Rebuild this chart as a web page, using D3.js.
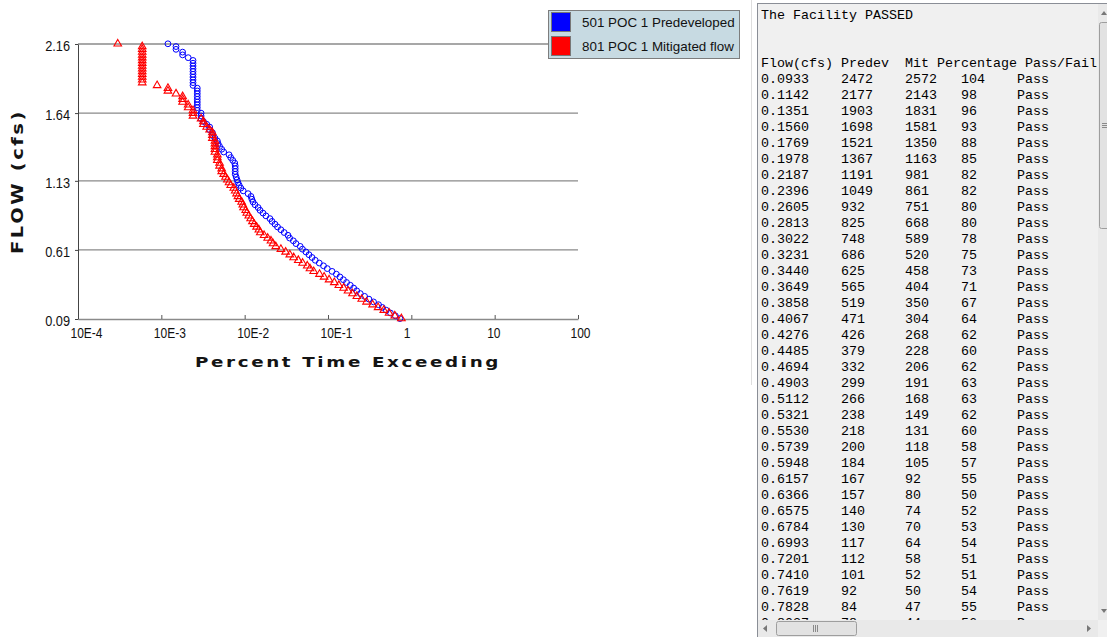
<!DOCTYPE html>
<html>
<head>
<meta charset="utf-8">
<script src="https://cdn.jsdelivr.net/npm/d3@7"></script>
<style>
  body { margin: 0; background: #fff; }
  svg { display: block; }
</style>
</head>
<body>
<div id="chart"></div>
<script>
// flow levels (cfs) used by the duration analysis
const flowLevels = [
  0.0933, 0.1142, 0.1351, 0.1560, 0.1769, 0.1978, 0.2187, 0.2396, 0.2605, 0.2813,
  0.3022, 0.3231, 0.3440, 0.3649, 0.3858, 0.4067, 0.4276, 0.4485, 0.4694, 0.4903,
  0.5112, 0.5321, 0.5530, 0.5739, 0.5948, 0.6157, 0.6366, 0.6575, 0.6784, 0.6993,
  0.7201, 0.7410, 0.7619, 0.7828, 0.8037, 0.8246, 0.8455, 0.8664, 0.8872, 0.9081,
  0.9290, 0.9499, 0.9708, 0.9917, 1.0126, 1.0335, 1.0544, 1.0753, 1.0962, 1.1171,
  1.1380, 1.1589, 1.1798, 1.2006, 1.2215, 1.2424, 1.2633, 1.2842, 1.3051, 1.3260,
  1.3469, 1.3678, 1.3887, 1.4096, 1.4304, 1.4513, 1.4722, 1.4931, 1.5140, 1.5349,
  1.5558, 1.5767, 1.5976, 1.6185, 1.6394, 1.6602, 1.6811, 1.7020, 1.7229, 1.7438,
  1.7647, 1.7856, 1.8065, 1.8274, 1.8483, 1.8691, 1.8900, 1.9109, 1.9318, 1.9527,
  1.9736, 1.9945, 2.0154, 2.0363, 2.0571, 2.0780, 2.0989, 2.1198, 2.1407, 2.1616
];

// percent time exceeding, predeveloped
const predevPct = [
  0.730, 0.643, 0.562, 0.501, 0.449, 0.404, 0.352, 0.310, 0.275, 0.244,
  0.221, 0.203, 0.185, 0.167, 0.153, 0.139, 0.126, 0.112, 0.098, 0.0883,
  0.0786, 0.0703, 0.0644, 0.0591, 0.0543, 0.0493, 0.0464, 0.0413, 0.0384, 0.0346,
  0.0331, 0.0298, 0.0272, 0.0248, 0.0231, 0.0213, 0.0201, 0.0180, 0.0166, 0.0153,
  0.0145, 0.0133, 0.0126, 0.0122, 0.0119, 0.0110, 0.0096, 0.0090, 0.0086, 0.0083,
  0.0081, 0.0079, 0.0077, 0.0077, 0.0077, 0.0077, 0.0076, 0.0072, 0.0068, 0.0065,
  0.0056, 0.0053, 0.0050, 0.0048, 0.0047, 0.0044, 0.0041, 0.0041, 0.0038, 0.0038,
  0.0035, 0.0032, 0.0030, 0.0030, 0.0030, 0.0027, 0.0027, 0.0027, 0.0027, 0.0027,
  0.0027, 0.0027, 0.0027, 0.0027, 0.0024, 0.0024, 0.0024, 0.0024, 0.0024, 0.0024,
  0.0024, 0.0024, 0.0024, 0.0024, 0.0021, 0.0018, 0.0018, 0.0015, 0.0015, 0.0012
];

// percent time exceeding, mitigated
const mitPct = [
  0.760, 0.633, 0.541, 0.467, 0.399, 0.343, 0.290, 0.254, 0.222, 0.197,
  0.174, 0.154, 0.135, 0.119, 0.103, 0.0898, 0.0791, 0.0673, 0.0608, 0.0564,
  0.0496, 0.0440, 0.0387, 0.0348, 0.0310, 0.0272, 0.0236, 0.0219, 0.0207, 0.0189,
  0.0171, 0.0154, 0.0148, 0.0139, 0.0130, 0.0124, 0.0118, 0.0112, 0.0106, 0.0103,
  0.0097, 0.0095, 0.0092, 0.0086, 0.0083, 0.0080, 0.0077, 0.0074, 0.0068, 0.0065,
  0.0062, 0.0059, 0.0056, 0.0053, 0.0053, 0.0050, 0.0050, 0.0047, 0.0047, 0.0047,
  0.0044, 0.0044, 0.0044, 0.0044, 0.0044, 0.0041, 0.0041, 0.0041, 0.0038, 0.0035,
  0.0032, 0.0032, 0.0030, 0.0024, 0.0024, 0.0024, 0.0021, 0.0021, 0.0018, 0.0018,
  0.0018, 0.0015, 0.0012, 0.0012, 0.00089, 0.00059, 0.00059, 0.00059, 0.00059, 0.00059,
  0.00059, 0.00059, 0.00059, 0.00059, 0.00059, 0.00059, 0.00059, 0.00059, 0.00059, 0.00030
];

const xTicks = [1e-4, 1e-3, 1e-2, 1e-1, 1, 10, 100];
const xTickLabels = ["10E-4", "10E-3", "10E-2", "10E-1", "1", "10", "100"];
const yTicks = [0.09, 0.61, 1.13, 1.64, 2.16];
const yTickLabels = ["0.09", "0.61", "1.13", "1.64", "2.16"];

const seriesNames = ["501 POC 1 Predeveloped", "801 POC 1 Mitigated flow"];
const seriesColors = ["#0000ff", "#ff0000"];

// table on the right
const tableTitle = "The Facility PASSED";
const tableHeader = ["Flow(cfs)", "Predev", "Mit", "Percentage", "Pass/Fail"];
const tablePredev = [2472, 2177, 1903, 1698, 1521, 1367, 1191, 1049, 932, 825, 748, 686, 625, 565, 519, 471, 426, 379,
  332, 299, 266, 238, 218, 200, 184, 167, 157, 140, 130, 117, 112, 101, 92, 84, 78];
const tableMit = [2572, 2143, 1831, 1581, 1350, 1163, 981, 861, 751, 668, 589, 520, 458, 404, 350, 304, 268, 228,
  206, 191, 168, 149, 131, 118, 105, 92, 80, 74, 70, 64, 58, 52, 50, 47, 44];
const tablePercent = [104, 98, 96, 93, 88, 85, 82, 82, 80, 80, 78, 75, 73, 71, 67, 64, 62, 60,
  62, 63, 63, 62, 60, 58, 57, 55, 50, 52, 53, 54, 51, 51, 54, 55, 56];
const tableResult = "Pass";

const svg = d3.select("#chart").append("svg")
  .attr("width", 1107)
  .attr("height", 637);

// plot area
var margin = {top: 44, left: 78},
    width = 500,
    height = 275;

var x = d3.scaleLog()
  .domain([1e-4, 100])
  .range([margin.left, margin.left + width]);
var y = d3.scaleLinear()
  .domain([0.09, 2.16])
  .range([margin.top + height, margin.top]);

const tickFont = "15px 'Liberation Sans', Arial, sans-serif";

// horizontal grid lines
svg.append("g")
  .selectAll("line")
  .data(yTicks.slice(1))
  .enter()
  .append("line")
    .attr("x1", x(1e-4))
    .attr("x2", x(100))
    .attr("y1", d => y(d))
    .attr("y2", d => y(d))
    .attr("stroke", "#8a8a8a")
    .attr("stroke-width", 1.4);

// X axis
var xAxis = svg.append("g")
  .attr("transform", "translate(0," + (margin.top + height) + ")")
  .call(d3.axisBottom(x)
    .tickValues(xTicks)
    .tickFormat((d, i) => xTickLabels[i])
    .tickSizeInner(-4)
    .tickSizeOuter(0));
xAxis.select(".domain").attr("stroke", "#8a8a8a").attr("stroke-width", 1.4);
xAxis.selectAll(".tick line").attr("stroke", "#555");
xAxis.selectAll(".tick text")
  .attr("x", 0).attr("y", 0).attr("dy", 0)
  .attr("text-anchor", "start")
  .attr("transform", "translate(-8,19) scale(0.8,1)")
  .attr("fill", "#111")
  .style("font", tickFont);

// Y axis
var yAxis = svg.append("g")
  .attr("transform", "translate(" + margin.left + ",0)")
  .call(d3.axisLeft(y)
    .tickValues(yTicks)
    .tickFormat((d, i) => yTickLabels[i])
    .tickSize(3)
    .tickSizeOuter(0));
yAxis.select(".domain").attr("stroke", "#444");
yAxis.selectAll(".tick line").attr("stroke", "#444");
yAxis.selectAll(".tick text")
  .attr("x", 0)
  .attr("dy", "0.36em")
  .attr("transform", "translate(-8,1) scale(0.85,1)")
  .attr("fill", "#111")
  .style("font", tickFont);

// Predeveloped: open circles
svg.append("g")
  .selectAll("circle")
  .data(predevPct)
  .enter()
  .append("circle")
    .attr("cx", d => x(d))
    .attr("cy", (d, i) => y(flowLevels[i]))
    .attr("r", 2.9)
    .attr("fill", "none")
    .attr("stroke", seriesColors[0])
    .attr("stroke-width", 1);

// Mitigated: open triangles
var tri = d3.symbol().type(d3.symbolTriangle).size(25);
svg.append("g")
  .selectAll("path")
  .data(mitPct)
  .enter()
  .append("path")
    .attr("d", tri)
    .attr("transform", (d, i) => "translate(" + x(d) + "," + y(flowLevels[i]) + ")")
    .attr("fill", "none")
    .attr("stroke", seriesColors[1])
    .attr("stroke-width", 1.1);

// axis titles
svg.append("text")
  .attr("transform", "translate(23," + (margin.top + height / 2) + ") rotate(-90)")
  .attr("text-anchor", "middle")
  .attr("textLength", 145)
  .attr("lengthAdjust", "spacingAndGlyphs")
  .attr("fill", "#141414")
  .style("font", "bold 15px 'DejaVu Sans', sans-serif")
  .style("letter-spacing", "2px")
  .text("FLOW (cfs)");

svg.append("text")
  .attr("x", 348)
  .attr("y", 367)
  .attr("text-anchor", "middle")
  .attr("textLength", 306)
  .attr("lengthAdjust", "spacingAndGlyphs")
  .attr("fill", "#141414")
  .style("font", "bold 14px 'DejaVu Sans', sans-serif")
  .style("letter-spacing", "2px")
  .text("Percent Time Exceeding");

// legend
var legend = svg.append("g");
legend.append("rect")
  .attr("x", 548.5).attr("y", 10.5)
  .attr("width", 191).attr("height", 48)
  .attr("fill", "#c7dae2")
  .attr("stroke", "#7d7d7d");
var ly = d3.scaleBand().domain(seriesNames).range([10, 58]);
var item = legend.selectAll("g.item")
  .data(seriesNames)
  .enter()
  .append("g")
    .attr("class", "item")
    .attr("transform", d => "translate(0," + (ly(d) + ly.bandwidth() / 2) + ")");
item.append("rect")
  .attr("x", 551.5).attr("y", -9.5)
  .attr("width", 19).attr("height", 19)
  .attr("fill", (d, i) => seriesColors[i])
  .attr("stroke", "#777");
item.append("text")
  .attr("x", 582)
  .attr("dy", "0.36em")
  .attr("fill", "#111")
  .style("font", "13.4px 'Liberation Sans', Arial, sans-serif")
  .text(d => d);

// right hand results panel
var panel = svg.append("g");
panel.append("line")
  .attr("x1", 751.5).attr("x2", 751.5)
  .attr("y1", 0).attr("y2", 385)
  .attr("stroke", "#dedede");
panel.append("rect")
  .attr("x", 757.5).attr("y", 3.5)
  .attr("width", 360).attr("height", 640)
  .attr("fill", "#f0f0f0")
  .attr("stroke", "#8a8e96");

svg.append("clipPath").attr("id", "textclip")
  .append("rect").attr("x", 758).attr("y", 4).attr("width", 340).attr("height", 616);

var lines = [tableTitle, "", "",
  tableHeader[0].padEnd(10) + tableHeader[1].padEnd(8) + tableHeader[2].padEnd(4) +
  tableHeader[3].padEnd(11) + tableHeader[4]];
tablePredev.forEach(function(p, i) {
  lines.push(flowLevels[i].toFixed(4).padEnd(10) + String(p).padEnd(8) +
    String(tableMit[i]).padEnd(7) + String(tablePercent[i]).padEnd(7) + tableResult);
});

panel.append("g")
  .attr("clip-path", "url(#textclip)")
  .selectAll("text")
  .data(lines)
  .enter()
  .append("text")
    .attr("x", 761)
    .attr("y", (d, i) => 19 + i * 16)
    .attr("fill", "#000")
    .style("font", "13.33px 'Courier New', 'Liberation Mono', monospace")
    .style("white-space", "pre")
    .text(d => d);

// scroll bars
var sb = panel.append("g");
sb.append("rect").attr("x", 1098).attr("y", 4).attr("width", 17).attr("height", 616).attr("fill", "#e9e9e9");
sb.append("rect").attr("x", 1099.5).attr("y", 22.5).attr("width", 14).attr("height", 206).attr("rx", 2)
  .attr("fill", "#e2e2e2").attr("stroke", "#9e9e9e");
sb.selectAll("line.grip").data([-2, 0, 2]).enter().append("line")
  .attr("x1", 1102).attr("x2", 1108).attr("y1", d => 125.5 + d).attr("y2", d => 125.5 + d)
  .attr("stroke", "#8a8a8a");
sb.append("path").attr("d", "M1101,15 L1104,11 L1107,15 Z").attr("fill", "#777");
sb.append("path").attr("d", "M1101,609 L1104,613 L1107,609 Z").attr("fill", "#777");

sb.append("rect").attr("x", 758).attr("y", 620).attr("width", 340).attr("height", 17).attr("fill", "#e9e9e9");
sb.append("rect").attr("x", 776.5).attr("y", 621.5).attr("width", 80).attr("height", 14).attr("rx", 2)
  .attr("fill", "#e2e2e2").attr("stroke", "#9e9e9e");
sb.selectAll("line.hgrip").data([-2, 0, 2]).enter().append("line")
  .attr("x1", d => 815.5 + d).attr("x2", d => 815.5 + d).attr("y1", 625).attr("y2", 632)
  .attr("stroke", "#8a8a8a");
sb.append("path").attr("d", "M767,625 L763,628.5 L767,632 Z").attr("fill", "#777");
sb.append("path").attr("d", "M1087,625 L1091,628.5 L1087,632 Z").attr("fill", "#777");
sb.append("rect").attr("x", 1098).attr("y", 620).attr("width", 17).attr("height", 17).attr("fill", "#f0f0f0");
</script>
</body>
</html>
